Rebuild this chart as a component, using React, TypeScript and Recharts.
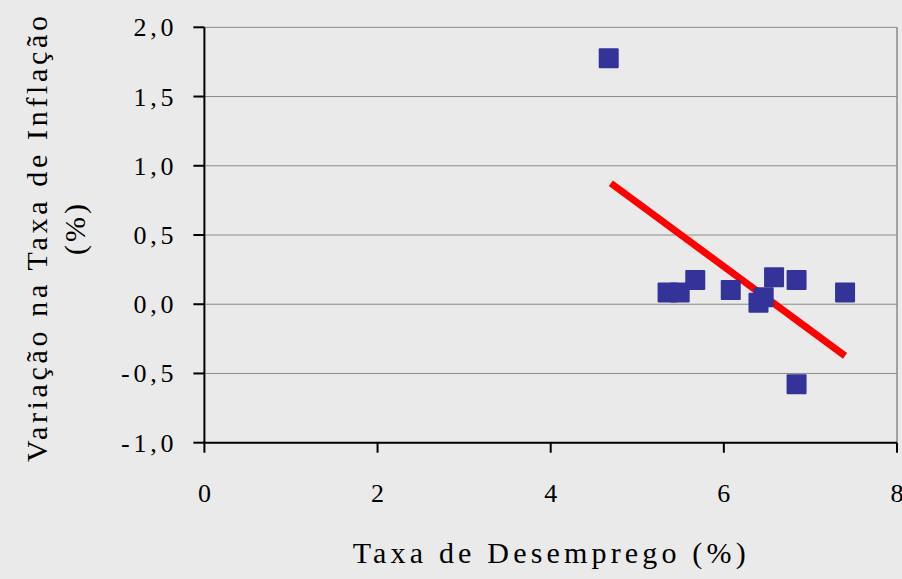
import {
  ScatterChart,
  Scatter,
  XAxis,
  YAxis,
  CartesianGrid,
  ReferenceLine,
} from "recharts";

const unemployment = [4.67, 5.35, 5.49, 5.67, 6.08, 6.4, 6.46, 6.58, 6.84, 6.84, 7.4];
const inflationChange = [1.776, 0.084, 0.084, 0.175, 0.103, 0.01, 0.05, 0.195, 0.175, -0.578, 0.084];

const trendX = [4.695, 7.4];
const trendY = [0.874, -0.373];

const xTicks = [0, 2, 4, 6, 8];
const yTicks = [-1, -0.5, 0, 0.5, 1, 1.5, 2];

const points = unemployment.map((x, i) => ({ x, y: inflationChange[i] }));

const FONT = "Liberation Serif";

// per-character dx instead of letter-spacing (which dropped the serif font)
const gaps = (s: string, g: number) =>
  s.split("").map((_, i) => (i === 0 ? 0 : g)).join(" ");

const Square = (props: any) => {
  const { cx, cy } = props;
  return <rect x={cx - 10} y={cy - 10} width={20} height={20} rx={1} fill="#333399" />;
};

const XTick = (props: any) => {
  const { x, y, payload } = props;
  return (
    <text x={x} y={y} dy="0.71em" textAnchor="middle" fontFamily={FONT} fontSize={26} fill="#000">
      {payload.value}
    </text>
  );
};

const YTick = (props: any) => {
  const { x, y, payload } = props;
  const label = Number(payload.value).toFixed(1).replace(".", ",");
  return (
    <text
      x={x}
      y={y + 9}
      dx={gaps(label, 3.75)}
      textAnchor="end"
      fontFamily={FONT}
      fontSize={26}
      fill="#000"
    >
      {label}
    </text>
  );
};

const yTitle1 = "Variação na Taxa de Inflação";
const yTitle2 = "(%)";
const xTitle = "Taxa de Desemprego (%)";

const YTitle = () => (
  <g>
    <text
      x={47}
      y={239}
      dx={gaps(yTitle1, 3.66)}
      textAnchor="middle"
      transform="rotate(-90, 47, 239)"
      fontFamily={FONT}
      fontSize={30}
      fill="#000"
    >
      {yTitle1}
    </text>
    <text
      x={85}
      y={229.5}
      dx={gaps(yTitle2, 3)}
      textAnchor="middle"
      transform="rotate(-90, 85, 229.5)"
      fontFamily={FONT}
      fontSize={30}
      fill="#000"
    >
      {yTitle2}
    </text>
  </g>
);

export default function App() {
  return (
    <div
      className="chart"
      style={{
        position: "absolute",
        left: 0,
        top: 0,
        width: 902,
        height: 579,
        background: "#EAEAEA",
      }}
    >
      <style>{`.chart svg text { font-family: "Liberation Serif" !important; }`}</style>
      <ScatterChart
        width={902}
        height={579}
        margin={{ top: 27.3, right: 5, left: 144.4, bottom: 76.3 }}
      >
        <CartesianGrid vertical={false} stroke="#8a8a8a" strokeWidth={1} />
        <XAxis
          type="number"
          dataKey="x"
          domain={[0, 8]}
          ticks={xTicks}
          height={60}
          stroke="#000"
          strokeWidth={2}
          tickSize={10}
          tickMargin={31}
          tick={<XTick />}
        />
        <YAxis
          type="number"
          dataKey="y"
          domain={[-1, 2]}
          ticks={yTicks}
          width={60}
          stroke="#000"
          strokeWidth={2}
          tickSize={11}
          tickMargin={20}
          tick={<YTick />}
        />
        <ReferenceLine x={8} stroke="#8a8a8a" strokeWidth={1.5} />
        <Scatter data={points} shape={Square} isAnimationActive={false} />
        <ReferenceLine
          segment={[
            { x: trendX[0], y: trendY[0] },
            { x: trendX[1], y: trendY[1] },
          ]}
          stroke="#FF0000"
          strokeWidth={7}
        />
        <text
          x={549.2}
          y={563}
          dx={gaps(xTitle, 4.17)}
          textAnchor="middle"
          fontFamily={FONT}
          fontSize={30}
          fill="#000"
        >
          {xTitle}
        </text>
        <YTitle />
      </ScatterChart>
    </div>
  );
}
